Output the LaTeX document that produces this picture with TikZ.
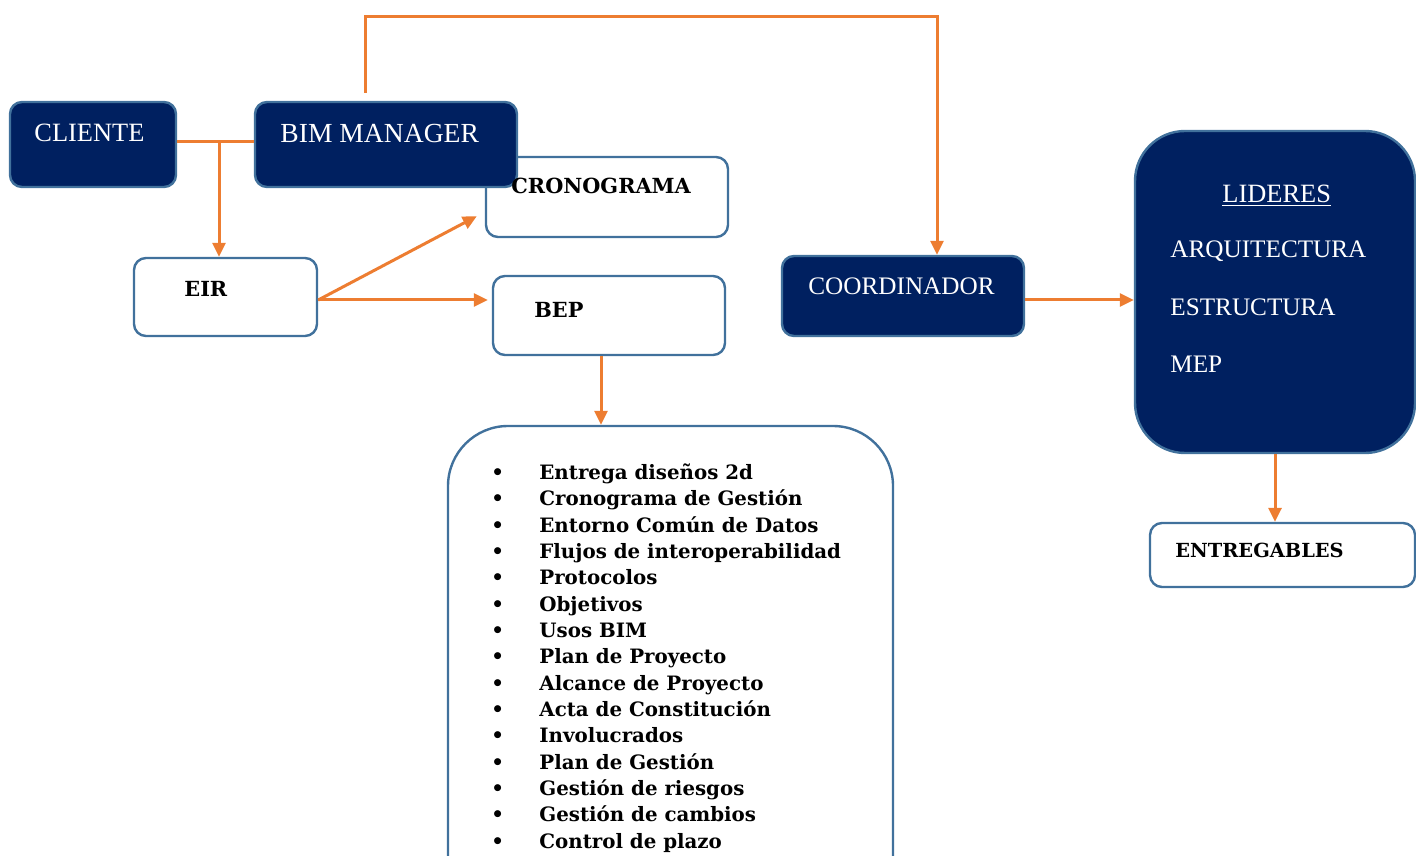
\documentclass[tikz,border=0pt]{standalone}
\usepackage{fontspec}
\setmainfont{Liberation Serif}
\newfontfamily\slabfont{DejaVu Serif}
\usetikzlibrary{arrows.meta,positioning}
\definecolor{navy}{HTML}{002060}
\definecolor{edgeblue}{HTML}{41719C}
\definecolor{flow}{HTML}{ED7D31}

\begin{document}
\begin{tikzpicture}[x=0.5pt, y=-0.5pt,
		darkbox/.style={draw=edgeblue, fill=navy, line width=1.2pt, rounded corners=6pt, inner sep=0pt},
		lightbox/.style={draw=edgeblue, fill=white, line width=1.2pt, rounded corners=6pt, inner sep=0pt},
		whitetxt/.style={text=white, inner sep=0pt, anchor=base west, font=\fontsize{12.6}{15}\selectfont},
		boldtxt/.style={inner sep=0pt, anchor=base west, font=\slabfont\bfseries\fontsize{9.9}{13.18}\selectfont},
		headtxt/.style={boldtxt, font=\slabfont\bfseries\fontsize{10.4}{13}\selectfont},
		link/.style={flow, line width=1.5pt},
		flecha/.style={link, -{Triangle[length=7pt, width=6.5pt]}}]
	\useasboundingbox (0,0) rectangle (1416,855);

	% cajas
	\node[lightbox, minimum width=121pt, minimum height=40pt] (crono) at (607,197) {};
	\node[darkbox, minimum width=83pt, minimum height=42.5pt] (cliente) at (93,144.5) {};
	\node[darkbox, minimum width=131pt, minimum height=42.5pt] (bim) at (386,144.5) {};
	\node[lightbox, minimum width=91.5pt, minimum height=39pt] (eir) at (225.5,297) {};
	\node[lightbox, minimum width=116pt, minimum height=39.5pt] (bep) at (609,315.5) {};
	\node[darkbox, minimum width=121pt, minimum height=40pt] (coord) at (903,296) {};
	\node[darkbox, rounded corners=25pt, minimum width=140pt, minimum height=161pt] (lideres) at (1275,292) {};
	\node[lightbox, minimum width=132.5pt, minimum height=32pt] (entreg) at (1282.5,555) {};
	\node[lightbox, rounded corners=30pt, minimum width=222.5pt, minimum height=262pt] (plan) at (670.5,688) {};

	% textos
	\node[whitetxt, font=\fontsize{13.2}{15}\selectfont] (cliente-t) at (34,142) {CLIENTE};
	\node[whitetxt, font=\fontsize{13.8}{16}\selectfont] (bim-t) at (280,143) {BIM MANAGER};
	\node[whitetxt] (coord-t) at (808,294) {COORDINADOR};
	\node[whitetxt, font=\fontsize{13.2}{15}\selectfont] (lid-t) at (1222,202.5) {\underline{LIDERES}};
	\node[whitetxt] (arq-t) at (1170,258) {ARQUITECTURA};
	\node[whitetxt] (est-t) at (1170,315) {ESTRUCTURA};
	\node[whitetxt] (mep-t) at (1170,372) {MEP};
	\node[headtxt] (crono-t) at (511,194) {CRONOGRAMA};
	\node[headtxt] (eir-t) at (184,297) {EIR};
	\node[headtxt] (bep-t) at (534,317) {BEP};
	\node[headtxt, font=\slabfont\bfseries\fontsize{9.7}{13}\selectfont] (entreg-t) at (1175,557) {ENTREGABLES};
	\node[boldtxt] (items) at (491,479.3) {%
		\begin{tabular}[t]{@{}l@{}}
			\makebox[24pt][l]{\textbullet}Entrega diseños 2d\\
			\makebox[24pt][l]{\textbullet}Cronograma de Gestión\\
			\makebox[24pt][l]{\textbullet}Entorno Común de Datos\\
			\makebox[24pt][l]{\textbullet}Flujos de interoperabilidad\\
			\makebox[24pt][l]{\textbullet}Protocolos\\
			\makebox[24pt][l]{\textbullet}Objetivos\\
			\makebox[24pt][l]{\textbullet}Usos BIM\\
			\makebox[24pt][l]{\textbullet}Plan de Proyecto\\
			\makebox[24pt][l]{\textbullet}Alcance de Proyecto\\
			\makebox[24pt][l]{\textbullet}Acta de Constitución\\
			\makebox[24pt][l]{\textbullet}Involucrados\\
			\makebox[24pt][l]{\textbullet}Plan de Gestión\\
			\makebox[24pt][l]{\textbullet}Gestión de riesgos\\
			\makebox[24pt][l]{\textbullet}Gestión de cambios\\
			\makebox[24pt][l]{\textbullet}Control de plazo
		\end{tabular}};

	% conectores
	\coordinate (mgrup) at (365,93);
	\coordinate (split) at (219,142);
	\draw[link] (cliente.east |- split) -- (bim.west |- split);
	\draw[flecha] (split) -- (split |- eir.north);
	\draw[flecha] (mgrup) -- ++(0,-76) -| ([xshift=17pt]coord.north);
	\draw[flecha] ([yshift=-1.5pt]eir.east) -- ([xshift=-4pt, yshift=11pt]crono.south west);
	\draw[flecha] ([yshift=-1.5pt]eir.east) -- ([xshift=-2pt, yshift=-1.5pt]eir.east -| bep.west);
	\draw[flecha] ([xshift=-4pt]bep.south) -- ([xshift=-4pt]bep.south |- plan.north);
	\draw[flecha] ([yshift=-2pt]coord.east) -- ([yshift=-2pt]coord.east -| lideres.west);
	\draw[flecha] (lideres.south) -- (lideres.south |- entreg.north);
\end{tikzpicture}
\end{document}
